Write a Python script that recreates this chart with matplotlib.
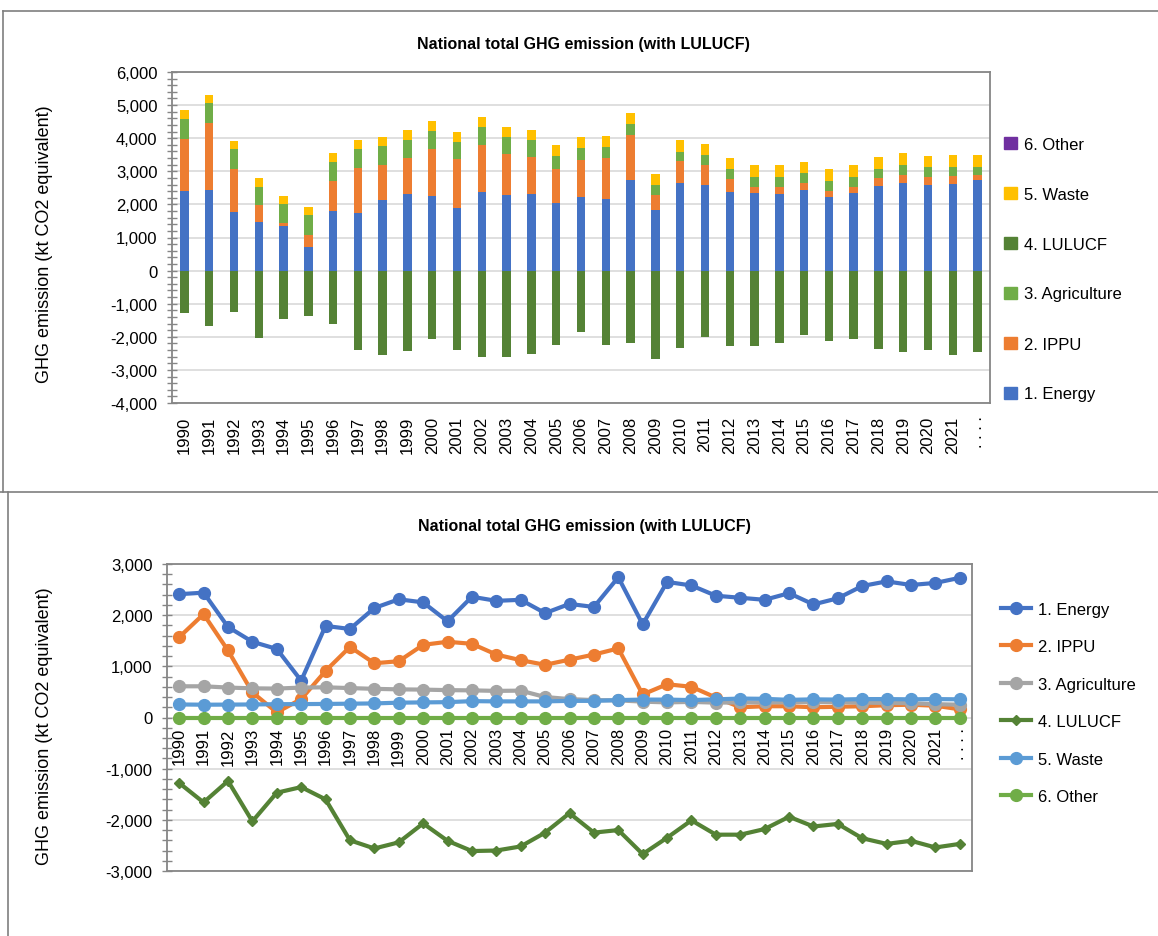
import numpy as np
import matplotlib
matplotlib.use('Agg')
import matplotlib.pyplot as plt
import matplotlib.ticker as mticker
from matplotlib.lines import Line2D
from matplotlib.patches import Patch

plt.rcParams['font.family'] = ['Liberation Sans', 'DejaVu Sans']

# ---- data (kt CO2 equivalent) ----
years = list(range(1990, 2023))
year_labels = [str(y) for y in years[:-1]] + ['. . . .']  # last label is clipped in the original

energy = [2410, 2440, 1770, 1480, 1340, 720, 1790, 1730, 2140, 2310, 2250,
          1880, 2360, 2280, 2300, 2040, 2220, 2160, 2740, 1820, 2650, 2580,
          2380, 2340, 2300, 2430, 2210, 2330, 2570, 2660, 2590, 2630, 2730]
ippu = [1570, 2020, 1310, 490, 100, 360, 910, 1380, 1060, 1100, 1420,
        1480, 1440, 1230, 1120, 1030, 1130, 1230, 1350, 450, 650, 600,
        390, 200, 220, 220, 200, 210, 220, 240, 250, 230, 160]
agriculture = [610, 610, 585, 570, 565, 585, 590, 575, 560, 550, 545,
               535, 530, 520, 525, 400, 360, 340, 335, 310, 295, 305,
               290, 295, 295, 300, 300, 300, 290, 285, 280, 260, 250]
lulucf = [-1280, -1660, -1240, -2030, -1470, -1360, -1600, -2400, -2560, -2440, -2070,
          -2410, -2610, -2600, -2520, -2250, -1870, -2250, -2200, -2670, -2350, -2010,
          -2290, -2290, -2180, -1940, -2130, -2080, -2360, -2470, -2410, -2540, -2470]
waste = [255, 250, 252, 255, 260, 262, 265, 270, 275, 290, 295,
         300, 320, 315, 315, 315, 325, 325, 340, 350, 350, 340,
         355, 370, 365, 345, 355, 350, 360, 360, 355, 360, 355]
other = [0] * len(years)

names = ['1. Energy', '2. IPPU', '3. Agriculture', '4. LULUCF', '5. Waste', '6. Other']
bar_colors = ['#4472C4', '#ED7D31', '#70AD47', '#548235', '#FFC000', '#7030A0']
line_colors = ['#4472C4', '#ED7D31', '#A5A5A5', '#548235', '#5B9BD5', '#70AD47']

W, H = 1158, 937
GRID = '#D9D9D9'
AXC = '#868686'
fmt = mticker.FuncFormatter(lambda v, p: f'{int(v):,}')

fig = plt.figure(figsize=(W / 100, H / 100), dpi=100)

# panel frames
for xs, ys in [([3, 3], [12, 493]), ([3, W], [12, 12]), ([0, W], [493, 493]), ([8, 8], [493, H])]:
    fig.add_artist(Line2D([v / W for v in xs], [1 - v / H for v in ys],
                          transform=fig.transFigure, color='#7F7F7F', lw=1.2))


def style_axes(ax, ymin, ymax):
    ax.set_xlim(-0.5, len(years) - 0.5)
    ax.set_ylim(ymin, ymax)
    ax.set_yticks(range(ymin, ymax + 1, 1000))
    ax.yaxis.set_minor_locator(mticker.MultipleLocator(200))
    ax.yaxis.set_major_formatter(fmt)
    ax.yaxis.grid(True, color=GRID, lw=1.2)
    ax.set_axisbelow(True)
    for s in ax.spines.values():
        s.set_color(AXC)
        s.set_linewidth(1.3)
    ax.tick_params(axis='y', which='both', direction='inout', length=7,
                   color=AXC, width=1, labelsize=12, pad=7)


# ---- top: stacked bars ----
ax1 = fig.add_axes([172 / W, 1 - 404 / H, 818 / W, 331 / H])
x = np.arange(len(years))
bw = 0.34
base = np.zeros(len(years))
for vals, col in [(energy, bar_colors[0]), (ippu, bar_colors[1]), (agriculture, bar_colors[2]),
                  (waste, bar_colors[4]), (other, bar_colors[5])]:
    ax1.bar(x, vals, bw, bottom=base, color=col, zorder=2)
    base += np.array(vals)
ax1.bar(x, lulucf, bw, color=bar_colors[3], zorder=2)
style_axes(ax1, -4000, 6000)
ax1.set_xticks(x, year_labels)
ax1.tick_params(axis='x', length=0, labelrotation=90, labelsize=12, pad=9)

handles = [Patch(color=c) for c in bar_colors][::-1]
fig.legend(handles, names[::-1], loc='center left', bbox_to_anchor=(996 / W, 1 - 270 / H),
           frameon=False, fontsize=12, handlelength=0.75, handleheight=0.75,
           handletextpad=0.45, labelspacing=2.1, borderpad=0)

fig.text(583 / W, 1 - 45 / H, 'National total GHG emission (with LULUCF)',
         ha='center', va='center', fontsize=11.5, fontweight='bold')
fig.text(45 / W, 1 - 244 / H, 'GHG emission (kt CO2 equivalent)', rotation=90,
         ha='center', va='center', fontsize=13)

# ---- bottom: lines ----
ax2 = fig.add_axes([167 / W, 1 - 872 / H, 805 / W, 307 / H])
series = [energy, ippu, agriculture, lulucf, waste, other]
for i, (vals, col) in enumerate(zip(series, line_colors)):
    if i == 3:
        ax2.plot(x, vals, color=col, lw=3, marker='D', markersize=5, zorder=3)
    else:
        ax2.plot(x, vals, color=col, lw=3, marker='o', markersize=8.5, zorder=3)
style_axes(ax2, -3000, 3000)
ax2.set_xticks(x)
ax2.tick_params(axis='x', length=0, labelbottom=False)
# category labels sit just under the zero line, as in the original
sec = ax2.secondary_xaxis(0.5)
sec.set_alignment('bottom')
sec.set_xticks(x, year_labels)
sec.tick_params(axis='x', length=0, labelrotation=90, labelsize=12, pad=7)
for s in sec.spines.values():
    s.set_visible(False)

lhandles = []
for i, col in enumerate(line_colors):
    if i == 3:
        lhandles.append(Line2D([], [], color=col, lw=3, marker='D', markersize=5))
    else:
        lhandles.append(Line2D([], [], color=col, lw=3, marker='o', markersize=8.5))
fig.legend(lhandles, names, loc='center left', bbox_to_anchor=(993 / W, 1 - 704 / H),
           frameon=False, fontsize=12, handlelength=1.75, handletextpad=0.45,
           labelspacing=1.35, borderpad=0)

fig.text(584 / W, 1 - 527 / H, 'National total GHG emission (with LULUCF)',
         ha='center', va='center', fontsize=11.5, fontweight='bold')
fig.text(45 / W, 1 - 726 / H, 'GHG emission (kt CO2 equivalent)', rotation=90,
         ha='center', va='center', fontsize=13)

fig.savefig('out.png', dpi=100, facecolor='white')
